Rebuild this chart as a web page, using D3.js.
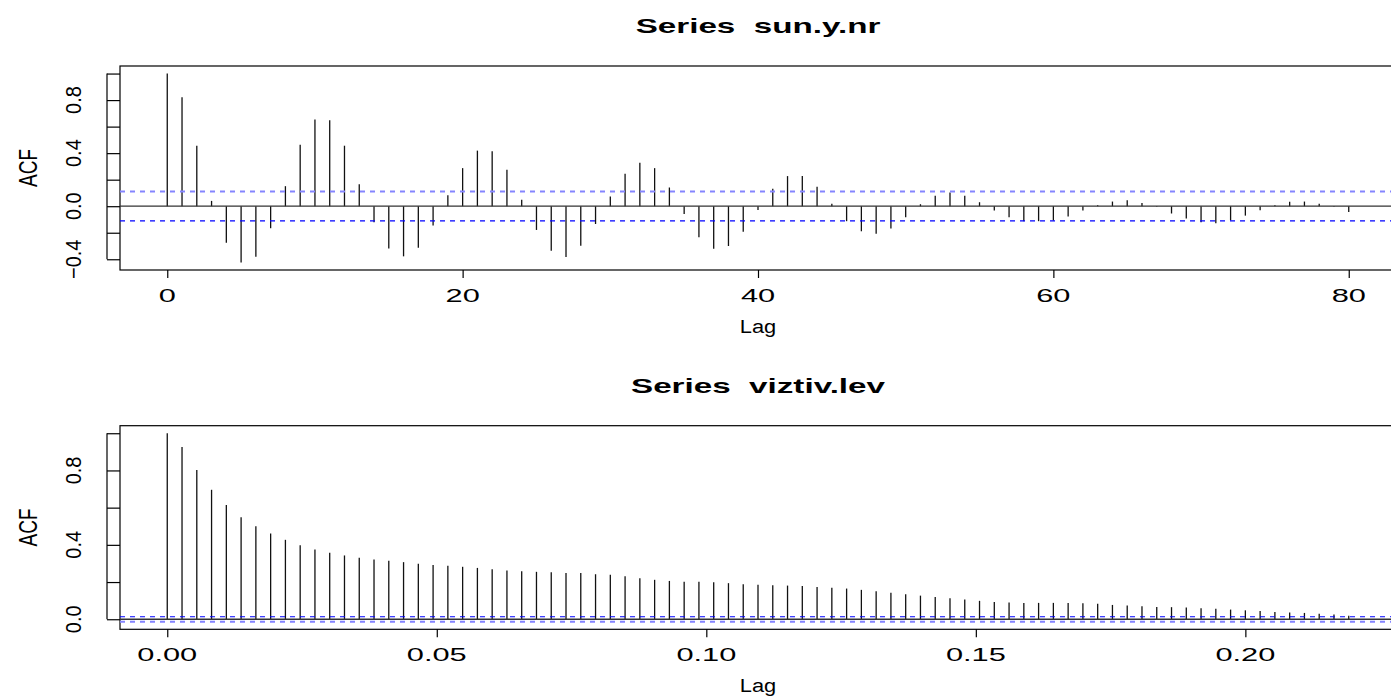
<!DOCTYPE html>
<html>
<head>
<meta charset="utf-8">
<script src="https://cdn.jsdelivr.net/npm/d3@7"></script>
<style>
  body { margin: 0; background: #fff; }
  svg { display: block; }
  text { font-family: "Liberation Sans", Arial, Helvetica, sans-serif; white-space: pre; }
</style>
</head>
<body>
<svg id="chart" width="1391" height="698"></svg>
<script>
// ---- data ----
var lagsTop = d3.range(0, 81);               // lags 0..80
var acfTop = [
  1.000, 0.822, 0.456, 0.040, -0.275, -0.424, -0.381, -0.166, 0.151, 0.464,
  0.653, 0.648, 0.456, 0.166, -0.121, -0.318, -0.378, -0.313, -0.146, 0.083,
  0.287, 0.419, 0.414, 0.275, 0.048, -0.179, -0.335, -0.383, -0.298, -0.134,
  0.073, 0.245, 0.328, 0.287, 0.141, -0.058, -0.234, -0.320, -0.300, -0.192,
  -0.028, 0.131, 0.227, 0.227, 0.146, 0.018, -0.113, -0.189, -0.207, -0.169,
  -0.084, 0.015, 0.078, 0.103, 0.078, 0.030, -0.033, -0.083, -0.113, -0.113,
  -0.108, -0.078, -0.033, 0.008, 0.035, 0.045, 0.025, -0.005, -0.055, -0.093,
  -0.121, -0.129, -0.108, -0.071, -0.030, 0.008, 0.033, 0.035, 0.018, -0.005,
  -0.043
];
var ciTop = 0.11;

// bottom series: lag in years (daily data, 365 per year)
var lagsBottom = d3.range(0, 81).map(function(k) { return k / 365; });
var acfBottom = [
  1.000, 0.926, 0.802, 0.696, 0.614, 0.549, 0.500, 0.461, 0.427, 0.398,
  0.375, 0.357, 0.343, 0.330, 0.321, 0.314, 0.307, 0.298, 0.291, 0.287,
  0.282, 0.276, 0.269, 0.262, 0.258, 0.255, 0.253, 0.249, 0.248, 0.242,
  0.239, 0.231, 0.221, 0.212, 0.206, 0.201, 0.201, 0.199, 0.194, 0.188,
  0.185, 0.183, 0.181, 0.179, 0.174, 0.170, 0.165, 0.158, 0.151, 0.142,
  0.135, 0.127, 0.120, 0.113, 0.106, 0.099, 0.093, 0.090, 0.088, 0.088,
  0.088, 0.088, 0.086, 0.083, 0.077, 0.074, 0.070, 0.066, 0.065, 0.063,
  0.059, 0.056, 0.052, 0.048, 0.045, 0.039, 0.036, 0.034, 0.030, 0.026,
  0.019
];
var ciBottom = 0.0135;

var xTicksTop = [0, 20, 40, 60, 80];
var xTicksBottom = [0, 0.05, 0.10, 0.15, 0.20];
var yTicksTop = [-0.4, -0.2, 0, 0.2, 0.4, 0.6, 0.8, 1.0];
var yLabelsTop = [-0.4, 0, 0.4, 0.8];
var yTicksBottom = [0, 0.2, 0.4, 0.6, 0.8, 1.0];
var yLabelsBottom = [0, 0.4, 0.8];

var titles = ["Series  sun.y.nr", "Series  viztiv.lev"];

// ---- layout ----
var svg = d3.select("#chart");
var left = 120, right = 1396;   // plot region runs past the window edge, as in the picture
var stretch = 1.62;             // horizontal text in the picture is drawn wide

function pad(ext) {
  var r = ext[1] - ext[0];
  return [ext[0] - 0.04 * r, ext[1] + 0.04 * r];
}

function panel(opt) {
  var g = svg.append("g");
  var x = d3.scaleLinear().domain(pad(d3.extent(opt.lags))).range([left, right]);
  var yext = d3.extent(opt.acf.concat([-opt.ci, opt.ci]));
  var y = d3.scaleLinear().domain(pad(yext)).range([opt.bottom, opt.top]);

  // box
  g.append("rect")
    .attr("x", left).attr("y", opt.top)
    .attr("width", right - left).attr("height", opt.bottom - opt.top)
    .attr("fill", "none").attr("stroke", "#000").attr("stroke-width", 1.2);

  // stems
  g.selectAll("line.stem")
    .data(opt.acf)
    .enter().append("line")
      .attr("class", "stem")
      .attr("x1", function(d, i) { return x(opt.lags[i]); })
      .attr("x2", function(d, i) { return x(opt.lags[i]); })
      .attr("y1", y(0))
      .attr("y2", function(d) { return y(d); })
      .attr("stroke", "#111").attr("stroke-width", 1.3);

  // zero line
  g.append("line")
    .attr("x1", left).attr("x2", right)
    .attr("y1", y(0)).attr("y2", y(0))
    .attr("stroke", "#333").attr("stroke-width", 1.3);

  // confidence bounds
  g.selectAll("line.ci")
    .data([opt.ci, -opt.ci])
    .enter().append("line")
      .attr("class", "ci")
      .attr("x1", left).attr("x2", right)
      .attr("y1", function(d) { return y(d); })
      .attr("y2", function(d) { return y(d); })
      .attr("stroke", function(d, i) { return opt.ciColors[i]; })
      .attr("stroke-width", function(d, i) { return opt.ciWidths[i]; })
      .attr("stroke-dasharray", "5,5");

  // y axis: line sits off the box, ticks reach in to it
  var yAxis = d3.axisLeft(y).tickValues(opt.yTicks).tickSize(13).tickFormat("");
  var ya = g.append("g").attr("transform", "translate(" + left + ",0)").call(yAxis);
  ya.select(".domain").remove();
  ya.append("line")
    .attr("x1", -13).attr("x2", -13)
    .attr("y1", y(opt.yTicks[0])).attr("y2", y(opt.yTicks[opt.yTicks.length - 1]))
    .attr("stroke", "#000").attr("stroke-width", 1.2);
  ya.selectAll(".tick line").attr("stroke", "#000").attr("stroke-width", 1.2);

  g.selectAll("text.ylab")
    .data(opt.yLabels)
    .enter().append("text")
      .attr("class", "ylab")
      .attr("transform", function(d) { return "translate(81," + y(d) + ") scale(1.1,1) rotate(-90)"; })
      .attr("text-anchor", "middle")
      .attr("font-size", 20)
      .text(function(d) { return d3.format(".1f")(d).replace("-", "\u2212"); });

  g.append("text")
    .attr("transform", "translate(37," + ((opt.top + opt.bottom) / 2) + ") scale(1.4,1) rotate(-90)")
    .attr("text-anchor", "middle")
    .attr("font-size", 19)
    .text("ACF");

  // x axis
  var xAxis = d3.axisBottom(x).tickValues(opt.xTicks).tickSize(8).tickFormat("");
  var xa = g.append("g").attr("transform", "translate(0," + opt.bottom + ")").call(xAxis);
  xa.select(".domain").remove();
  xa.selectAll(".tick line").attr("stroke", "#000").attr("stroke-width", 1.2);

  g.selectAll("text.xlab")
    .data(opt.xTicks)
    .enter().append("text")
      .attr("class", "xlab")
      .attr("transform", function(d) { return "translate(" + x(d) + "," + (opt.bottom + 32) + ") scale(" + stretch + ",1)"; })
      .attr("text-anchor", "middle")
      .attr("font-size", 19)
      .text(opt.xFormat);

  g.append("text")
    .attr("transform", "translate(" + ((left + right) / 2) + "," + (opt.bottom + 62.5) + ") scale(1.15,1)")
    .attr("text-anchor", "middle")
    .attr("font-size", 19)
    .text("Lag");

  g.append("text")
    .attr("transform", "translate(" + ((left + right) / 2) + "," + (opt.top - 33) + ") scale(" + stretch + ",1)")
    .attr("text-anchor", "middle")
    .attr("font-size", 20.5)
    .attr("font-weight", "bold")
    .text(opt.title);
}

panel({
  lags: lagsTop, acf: acfTop, ci: ciTop, top: 66, bottom: 270,
  xTicks: xTicksTop, yTicks: yTicksTop, yLabels: yLabelsTop,
  xFormat: function(d) { return String(d); },
  ciColors: ["#8585ff", "#0000ff"], ciWidths: [2, 1.2],
  title: titles[0]
});

panel({
  lags: lagsBottom, acf: acfBottom, ci: ciBottom, top: 425.7, bottom: 629.3,
  xTicks: xTicksBottom, yTicks: yTicksBottom, yLabels: yLabelsBottom,
  xFormat: d3.format(".2f"),
  ciColors: ["#0000ff", "#8585ff"], ciWidths: [1.2, 2],
  title: titles[1]
});
</script>
</body>
</html>
